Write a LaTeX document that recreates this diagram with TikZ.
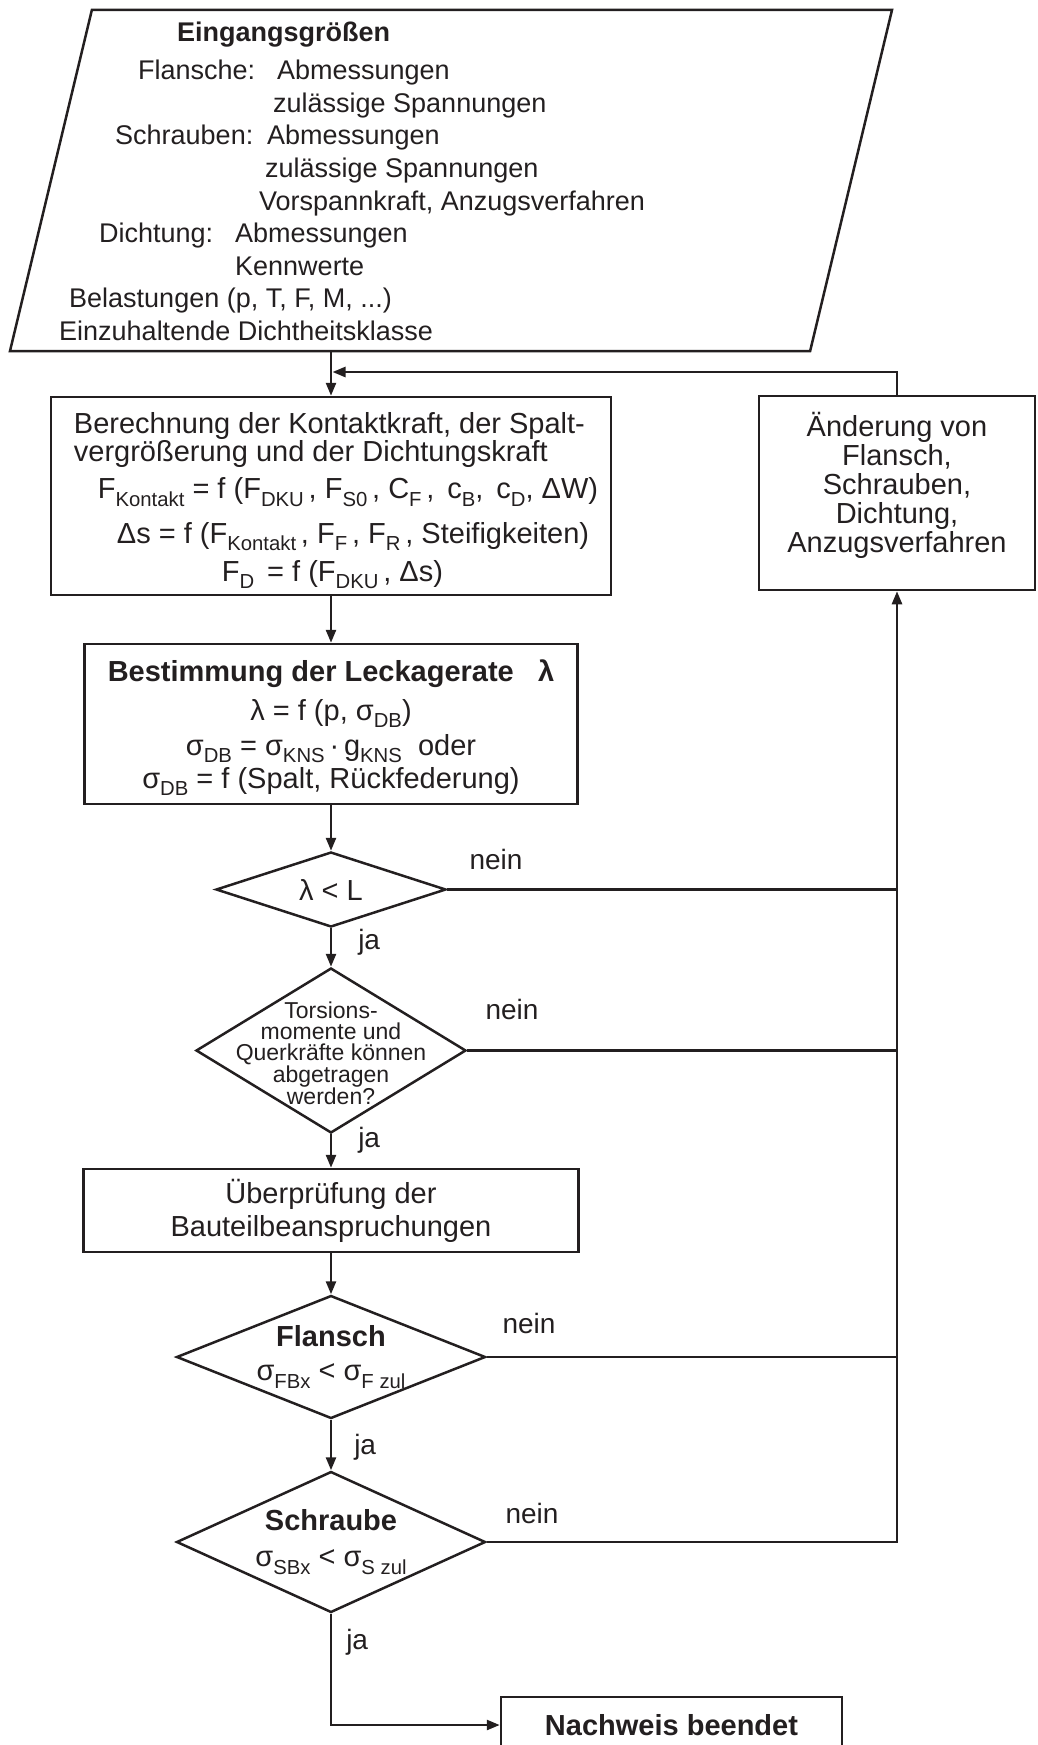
\documentclass[tikz,border=0pt]{standalone}
\usepackage{fontspec}
\usepackage{graphicx}
\setmainfont{Liberation Sans}
\usetikzlibrary{shapes.geometric,arrows.meta,positioning}
\definecolor{ink}{RGB}{35,31,32}
\newcommand{\idx}[1]{\raisebox{-0.25em}{\scalebox{0.7}{#1}}}
\tikzset{
  process/.style={draw=ink, line width=2.5pt, inner sep=0pt, align=center, text=ink},
  decision/.style={draw=ink, line width=2.5pt, diamond, inner sep=0pt, align=center, text=ink},
  lbl/.style={inner sep=0pt, text=ink, font=\fontsize{28}{33}\selectfont},
  arr/.style={draw=ink, line width=2.5pt, -{Triangle[length=13pt,width=10pt]}},
  line/.style={draw=ink, line width=2.5pt}
}
\begin{document}
\begin{tikzpicture}[x=1pt, y=-1pt, font=\fontsize{29}{33}\selectfont]
\useasboundingbox (0,0) rectangle (1037,1745);
\node[draw=ink, line width=2.5pt, trapezium, trapezium left angle=76.5, trapezium right angle=103.5, trapezium stretches body, minimum width=882pt, inner sep=0pt] (input) at (451,180.5) {\rule{0pt}{341pt}};
\node[lbl, anchor=north west, align=left, font=\fontsize{27}{32.6}\selectfont] (inputtext) at (59,22) {\hspace*{118pt}\textbf{Eingangsgrößen}\\[5.4pt]
\hspace*{79pt}\rlap{Flansche:}\hspace*{139pt}Abmessungen\\
\hspace*{214pt}zulässige Spannungen\\
\hspace*{56pt}\rlap{Schrauben:}\hspace*{152pt}Abmessungen\\
\hspace*{206pt}zulässige Spannungen\\
\hspace*{200pt}Vorspannkraft, Anzugsverfahren\\
\hspace*{40pt}\rlap{Dichtung:}\hspace*{136pt}Abmessungen\\
\hspace*{176pt}Kennwerte\\
\hspace*{10pt}Belastungen (p, T, F, M, ...)\\
Einzuhaltende Dichtheitsklasse};
\node[process, align=left, minimum width=560pt, minimum height=198pt, font=\fontsize{29}{28}\selectfont] (calc) at (331,496) {\rule{0pt}{31pt}\hspace*{10pt}Berechnung der Kontaktkraft, der Spalt-\\
\hspace*{10pt}vergrößerung und der Dichtungskraft\\[9pt]
\hspace*{34pt}F\idx{Kontakt} = f (F\idx{DKU}\,, F\idx{S0}\,, C\idx{F}\,,\, c\idx{B},\, c\idx{D}, ΔW)\\[15pt]
\hspace*{53pt}Δs = f (F\idx{Kontakt}\,, F\idx{F}\,, F\idx{R}\,, Steifigkeiten)\\[9pt]
\hspace*{158pt}F\idx{D}\, = f (F\idx{DKU}\,, Δs)};
\node[process, minimum width=276pt, minimum height=194pt, font=\fontsize{29}{29}\selectfont] (change) at (897,493) {Änderung von\\Flansch,\\Schrauben,\\Dichtung,\\Anzugsverfahren\rule[-22pt]{0pt}{22pt}};
\node[process, minimum width=493pt, minimum height=160pt, font=\fontsize{29}{33}\selectfont] (leak) at (331,724) {\rule{0pt}{29pt}\textbf{Bestimmung der Leckagerate~~~λ}\\[6pt]
λ = f (p, σ\idx{DB})\\[2pt]
σ\idx{DB} = σ\idx{KNS}\,·\,g\idx{KNS}~ oder\\
σ\idx{DB} = f (Spalt, Rückfederung)};
\node[decision, minimum width=230pt, minimum height=75pt, shape aspect=3.07] (lcheck) at (331,889.5) {λ < L};
\node[decision, minimum width=270pt, minimum height=165pt] (torsion) at (331,1050.5) {};
\node[lbl, align=center, font=\fontsize{23}{21}\selectfont, yshift=-3pt] (torsiontext) at (torsion) {Torsions-\\momente und\\Querkräfte können\\abgetragen\\werden?};
\node[process, minimum width=495pt, minimum height=83pt] (check) at (331,1210.5) {Überprüfung der\\Bauteilbeanspruchungen};
\node[decision, minimum width=309pt, minimum height=123pt, shape aspect=2.51, font=\fontsize{29}{34}\selectfont] (flange) at (331,1357) {\textbf{Flansch}\\σ\idx{FBx} < σ\idx{F zul}};
\node[decision, minimum width=309pt, minimum height=141pt, shape aspect=2.19, font=\fontsize{29}{36}\selectfont] (bolt) at (331,1542) {\textbf{Schraube}\\σ\idx{SBx} < σ\idx{S zul}};
\node[process, minimum width=341pt, minimum height=56pt] (done) at (671.5,1725) {\textbf{Nachweis beendet}};
\coordinate (merge) at (332.5,372);
\draw[arr] (input.south -| calc.north) -- (calc.north);
\draw[arr] (change.north) |- (merge);
\draw[arr] (calc) -- (leak);
\draw[arr] (leak) -- (lcheck);
\draw[arr] (lcheck) -- node[lbl, pos=0.37, right=26pt] (ja1) {ja} (torsion);
\draw[arr] (torsion) -- node[lbl, pos=0.17, right=26pt] (ja2) {ja} (check);
\draw[arr] (check) -- (flange);
\draw[arr] (flange) -- node[lbl, pos=0.55, right=22pt] (ja3) {ja} (bolt);
\draw[arr] (bolt) |- node[lbl, pos=0.13, right=14pt] (ja4) {ja} (done);
\draw[line] (lcheck.east) -- (lcheck.east -| change.south) node[lbl, pos=0, above right=18.5pt and 21pt] (nein1) {nein};
\draw[line] (torsion.east) -- (torsion.east -| change.south) node[lbl, pos=0, above right=29.5pt and 17pt] (nein2) {nein};
\draw[line] (flange.east) -- (flange.east -| change.south) node[lbl, pos=0, above right=22pt and 14.5pt] (nein3) {nein};
\draw[arr] (bolt.east) -| node[lbl, pos=0, above right=17pt and 17.5pt] (nein4) {nein} (change.south);
\end{tikzpicture}
\end{document}
